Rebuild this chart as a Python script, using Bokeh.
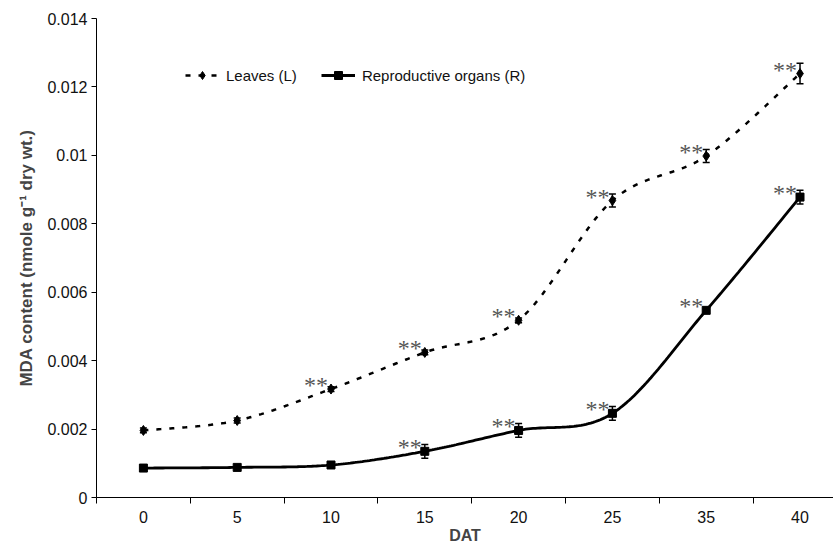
import numpy as np
from bokeh.plotting import figure
from bokeh.models import (Range1d, FixedTicker, ColumnDataSource, Whisker, TeeHead,
                          Legend, LegendItem)
from bokeh.core.properties import value
from bokeh.embed import file_html
from bokeh.resources import INLINE

# ---- data ----
dat_labels = ["0", "5", "10", "15", "20", "25", "35", "40"]
leaves = [0.00196, 0.00225, 0.00317, 0.00424, 0.00518, 0.00868, 0.00998, 0.01239]
leaves_err = [0.00007, 0.00007, 0.00007, 0.00007, 0.00007, 0.00019, 0.00019, 0.00030]
repro = [0.00086, 0.00088, 0.00095, 0.00135, 0.00196, 0.00246, 0.00547, 0.00878]
repro_err = [0.00003, 0.00003, 0.00004, 0.00020, 0.00020, 0.00020, 0.00005, 0.00020]
sig_leaves = ["", "", "**", "**", "**", "**", "**", "**"]
sig_repro = ["", "", "", "**", "**", "**", "**", "**"]
y_ticks = [0, 0.002, 0.004, 0.006, 0.008, 0.010, 0.012, 0.014]
y_tick_labels = ["0", "0.002", "0.004", "0.006", "0.008", "0.01", "0.012", "0.014"]

idx = list(range(len(dat_labels)))


def smooth(xs, ys, n=40):
    """Excel-like smoothed line (Catmull-Rom Bezier) through the data points."""
    P = np.column_stack([np.asarray(xs, float), np.asarray(ys, float)])
    out = []
    for i in range(len(P) - 1):
        p0 = P[i - 1] if i > 0 else P[i]
        p1, p2 = P[i], P[i + 1]
        p3 = P[i + 2] if i + 2 < len(P) else P[i + 1]
        c1 = p1 + (p2 - p0) / 6.0
        c2 = p2 - (p3 - p1) / 6.0
        t = np.linspace(0, 1, n)[:, None]
        seg = (1 - t) ** 3 * p1 + 3 * (1 - t) ** 2 * t * c1 + 3 * (1 - t) * t ** 2 * c2 + t ** 3 * p2
        out.append(seg if i == 0 else seg[1:])
    S = np.vstack(out)
    return S[:, 0], S[:, 1]


FONT = "Liberation Sans"

p = figure(width=833, height=546, output_backend="svg", toolbar_location=None,
           x_range=Range1d(-0.5, 7.357), y_range=Range1d(0, 0.014),
           min_border_left=96, min_border_right=0, min_border_top=18, min_border_bottom=49)
p.outline_line_color = None
p.grid.visible = False
p.background_fill_color = "white"

# x axis: categorical look, ticks between categories
xa = p.xaxis[0]
xa.ticker = FixedTicker(ticks=idx, minor_ticks=[i - 0.5 for i in idx])
xa.major_label_overrides = {i: lab for i, lab in zip(idx, dat_labels)}
xa.major_tick_out = 0
xa.major_tick_in = 0
xa.minor_tick_out = 6
xa.minor_tick_in = 0
xa.minor_tick_line_color = "black"
xa.major_label_standoff = 7
xa.major_label_text_font = FONT
xa.major_label_text_font_size = "16px"
xa.major_label_text_color = "#111111"
xa.axis_label = "DAT"
xa.axis_label_text_font = FONT
xa.axis_label_text_font_style = "bold"
xa.axis_label_text_font_size = "16px"
xa.axis_label_standoff = 1
xa.axis_line_color = "black"

ya = p.yaxis[0]
ya.ticker = FixedTicker(ticks=y_ticks, minor_ticks=[])
ya.major_label_overrides = {t: lab for t, lab in zip(y_ticks, y_tick_labels)}
ya.major_tick_out = 5
ya.major_tick_in = 0
ya.minor_tick_out = 0
ya.minor_tick_in = 0
ya.major_label_standoff = 4
ya.major_label_text_font = FONT
ya.major_label_text_font_size = "16px"
ya.major_label_text_color = "#111111"
ya.axis_label = "MDA content (nmole g\u207b\u00b9 dry wt.)"
ya.axis_label_text_font = FONT
ya.axis_label_text_font_style = "bold"
ya.axis_label_text_font_size = "17px"
ya.axis_label_standoff = 8
ya.axis_line_color = "black"

# lines
lx, ly = smooth(idx, leaves)
rx, ry = smooth(idx, repro)
l_line = p.line(lx, ly, line_color="black", line_width=2.5, line_dash="5 8")
r_line = p.line(rx, ry, line_color="black", line_width=2.8)

# error bars
for vals, errs in ((leaves, leaves_err), (repro, repro_err)):
    src = ColumnDataSource(dict(x=idx,
                                upper=[v + e for v, e in zip(vals, errs)],
                                lower=[v - e for v, e in zip(vals, errs)]))
    w = Whisker(base="x", upper="upper", lower="lower", source=src, dimension="height",
                line_color="black", line_width=1.5,
                upper_head=TeeHead(size=7, line_color="black", line_width=1.5),
                lower_head=TeeHead(size=7, line_color="black", line_width=1.5))
    p.add_layout(w)

# markers
l_mark = p.scatter(idx, leaves, marker="diamond", size=10, fill_color="black", line_color="black")
r_mark = p.scatter(idx, repro, marker="square", size=8, fill_color="black", line_color="black")

# significance asterisks
for vals, sig in ((leaves, sig_leaves), (repro, sig_repro)):
    sx = [i for i, s in zip(idx, sig) if s]
    sy = [v for v, s in zip(vals, sig) if s]
    st = [s for s in sig if s]
    p.text(sx, sy, text=st, text_align="right", text_baseline="alphabetic",
           x_offset=-3, y_offset=-4, text_font=value("Liberation Serif"),
           text_font_size="24px", text_color="#555555")

legend = Legend(items=[LegendItem(label="Leaves (L)", renderers=[l_line, l_mark]),
                       LegendItem(label="Reproductive organs (R)", renderers=[r_line, r_mark])],
                orientation="horizontal", location=(89, 412),
                glyph_width=34, glyph_height=20, label_standoff=7, spacing=24,
                padding=0, margin=0, border_line_color=None, background_fill_alpha=0,
                label_text_font=FONT, label_text_font_size="15px", label_text_color="#111111")
p.add_layout(legend, "center")

open("out.html", "w").write(file_html(p, INLINE))
